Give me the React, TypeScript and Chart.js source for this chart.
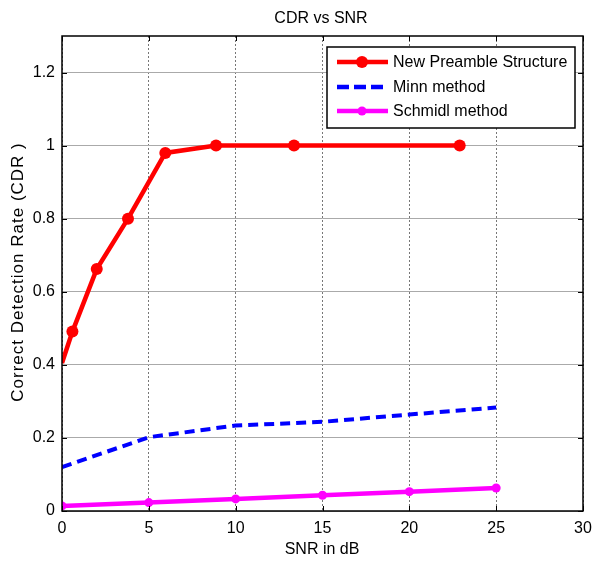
import React, { useEffect, useRef } from "react";
import { Chart, registerables } from "chart.js";

Chart.register(...registerables);

const titleText = "CDR vs SNR";
const xLabel = "SNR in dB";
const yLabel = "Correct Detection Rate (CDR )";
const seriesNames = ["New Preamble Structure", "Minn method", "Schmidl method"];

const xTicks = [0, 5, 10, 15, 20, 25, 30];
const yTicks = [0, 0.2, 0.4, 0.6, 0.8, 1, 1.2];

const newSnr = [0, 0.6, 2.0, 3.8, 5.95, 8.87, 13.36, 22.9];
const newCdr = [0.405, 0.491, 0.662, 0.8, 0.98, 1.0, 1.0, 1.0];

const minnSnr = [0, 5, 10, 15, 20, 25];
const minnCdr = [0.12, 0.202, 0.234, 0.244, 0.264, 0.283];

const schmidlSnr = [0, 5, 10, 15, 20, 25];
const schmidlCdr = [0.014, 0.023, 0.033, 0.043, 0.053, 0.063];

const FONT = "Arial, 'Liberation Sans', sans-serif";

const decorPlugin = {
  id: "decor",
  afterDraw(chart: any) {
    const { ctx, chartArea: a, scales } = chart;
    const xs = scales.x;
    const ys = scales.y;
    ctx.save();
    // box
    ctx.strokeStyle = "#000";
    ctx.lineWidth = 1.5;
    ctx.strokeRect(a.left, a.top, a.right - a.left, a.bottom - a.top);
    // inner ticks
    ctx.lineWidth = 1;
    const tl = 5;
    xTicks.forEach((t) => {
      const px = Math.round(xs.getPixelForValue(t)) + 0.5;
      ctx.beginPath();
      ctx.moveTo(px, a.bottom);
      ctx.lineTo(px, a.bottom - tl);
      ctx.moveTo(px, a.top);
      ctx.lineTo(px, a.top + tl);
      ctx.stroke();
    });
    yTicks.forEach((t) => {
      const py = Math.round(ys.getPixelForValue(t)) + 0.5;
      ctx.beginPath();
      ctx.moveTo(a.left, py);
      ctx.lineTo(a.left + tl, py);
      ctx.moveTo(a.right, py);
      ctx.lineTo(a.right - tl, py);
      ctx.stroke();
    });

    // legend
    const lx = 327, ly = 47, lw = 248, lh = 81;
    ctx.fillStyle = "#fff";
    ctx.fillRect(lx, ly, lw, lh);
    ctx.strokeStyle = "#000";
    ctx.lineWidth = 1.5;
    ctx.strokeRect(lx, ly, lw, lh);
    const rows = [62, 87, 111];
    const colors = ["#ff0000", "#0000ff", "#ff00ff"];
    const dashes = [[], [12, 5], []];
    const markers = [6, 0, 4.5];
    rows.forEach((ry, i) => {
      ctx.strokeStyle = colors[i];
      ctx.lineWidth = 4.5;
      ctx.setLineDash(dashes[i]);
      ctx.beginPath();
      ctx.moveTo(337, ry);
      ctx.lineTo(388, ry);
      ctx.stroke();
      ctx.setLineDash([]);
      if (markers[i] > 0) {
        ctx.fillStyle = colors[i];
        ctx.beginPath();
        ctx.arc(362, ry, markers[i], 0, Math.PI * 2);
        ctx.fill();
      }
      ctx.fillStyle = "#000";
      ctx.font = `16px ${FONT}`;
      ctx.textAlign = "left";
      ctx.textBaseline = "middle";
      ctx.fillText(seriesNames[i], 393, ry + 1);
    });

    // title
    ctx.fillStyle = "#000";
    ctx.font = `16px ${FONT}`;
    ctx.textAlign = "center";
    ctx.textBaseline = "middle";
    ctx.fillText(titleText, 321, 19);

    // x label
    ctx.fillText(xLabel, 322, 550);

    // y label
    ctx.save();
    ctx.translate(18, 272);
    ctx.rotate(-Math.PI / 2);
    ctx.font = `17px ${FONT}`;
    (ctx as any).letterSpacing = "1px";
    ctx.fillText(yLabel, 0, 0);
    ctx.restore();

    ctx.restore();
  },
};

export default function App() {
  const ref = useRef<HTMLCanvasElement | null>(null);
  useEffect(() => {
    if (!ref.current) return;
    const chart = new Chart(ref.current, {
      type: "line",
      data: {
        datasets: [
          {
            label: seriesNames[0],
            data: newSnr.map((x, i) => ({ x, y: newCdr[i] })),
            borderColor: "#ff0000",
            backgroundColor: "#ff0000",
            borderWidth: 4.5,
            pointRadius: newSnr.map((_, i) => (i === 0 ? 0 : 6)),
            pointBorderWidth: 0,
            pointBackgroundColor: "#ff0000",
            tension: 0,
          },
          {
            label: seriesNames[1],
            data: minnSnr.map((x, i) => ({ x, y: minnCdr[i] })),
            borderColor: "#0000ff",
            backgroundColor: "#0000ff",
            borderWidth: 4,
            borderDash: [10, 6],
            pointRadius: 0,
            tension: 0,
          },
          {
            label: seriesNames[2],
            data: schmidlSnr.map((x, i) => ({ x, y: schmidlCdr[i] })),
            borderColor: "#ff00ff",
            backgroundColor: "#ff00ff",
            borderWidth: 4.5,
            pointRadius: 4.5,
            pointBorderWidth: 0,
            pointBackgroundColor: "#ff00ff",
            tension: 0,
          },
        ],
      },
      options: {
        responsive: false,
        animation: false,
        layout: { padding: { left: 0, top: 36, right: 9, bottom: 0 } },
        plugins: {
          legend: { display: false },
          title: { display: false },
          tooltip: { enabled: false },
        },
        scales: {
          x: {
            type: "linear",
            min: 0,
            max: 30,
            afterBuildTicks: (s: any) => {
              s.ticks = xTicks.map((v) => ({ value: v }));
            },
            afterFit: (s: any) => {
              s.height = 52;
              s.paddingLeft = 0;
              s.paddingRight = 0;
            },
            ticks: {
              font: { family: FONT, size: 16 },
              color: "#000",
              padding: 8,
              maxRotation: 0,
              autoSkip: false,
            },
            grid: { color: "#777", lineWidth: 1, drawTicks: false },
            border: { display: false, dash: [2, 2] },
          },
          y: {
            type: "linear",
            min: 0,
            max: 1.3,
            afterBuildTicks: (s: any) => {
              s.ticks = yTicks.map((v) => ({ value: v }));
            },
            afterFit: (s: any) => {
              s.width = 62;
              s.paddingTop = 0;
              s.paddingBottom = 0;
            },
            ticks: {
              font: { family: FONT, size: 16 },
              color: "#000",
              padding: 7,
              autoSkip: false,
              callback: (v: any) => String(Math.round(Number(v) * 10) / 10),
            },
            grid: { color: "#aaa", lineWidth: 1, drawTicks: false },
            border: { display: false },
          },
        },
      },
      plugins: [decorPlugin],
    });
    return () => chart.destroy();
  }, []);
  return (
    <div style={{ position: "absolute", left: 0, top: 0, width: 592, height: 563, background: "#fff" }}>
      <canvas ref={ref} width={592} height={563} />
    </div>
  );
}
